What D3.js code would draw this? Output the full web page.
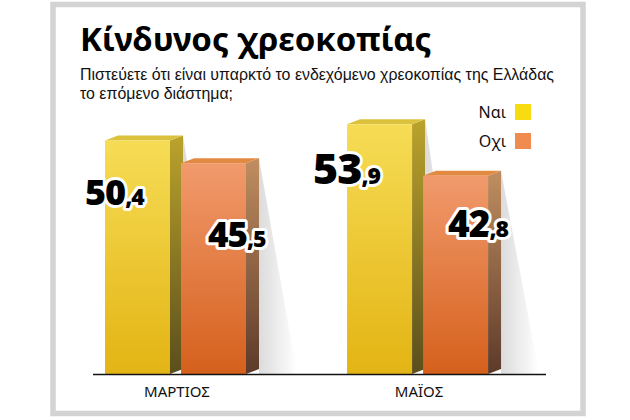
<!doctype html>
<html lang="el">
<head>
<meta charset="UTF-8" />
<title>Κίνδυνος χρεοκοπίας</title>
<style>
    body { margin: 0; background: #fff; }
    .title { font-family: 'Noto Sans', sans-serif; font-weight: 700; font-size: 33px; fill: #000; }
    .subtitle { font-family: 'Liberation Sans Narrow', 'Liberation Sans', sans-serif; font-size: 16.5px; fill: #111; }
    .legend-label { font-family: 'Noto Sans', sans-serif; font-size: 16px; fill: #111; }
    .value-label { font-family: 'Open Sans', sans-serif; font-weight: 800; fill: #000;
        stroke: #fff; stroke-width: 6px; stroke-linejoin: round; paint-order: stroke; }
    .cat-axis text { font-family: 'Noto Sans', sans-serif; font-size: 15px; fill: #111; }
</style>
<script src="https://d3js.org/d3.v7.min.js"></script>
</head>
<body>
<div id="chart-container"></div>
<script>
    // data
    var categories = ['ΜΑΡΤΙΟΣ', 'ΜΑΪΟΣ'];
    var seriesNames = ['Ναι', 'Οχι'];
    var naiValues = [50.4, 53.9];
    var oxiValues = [45.5, 42.8];
    var valueText = [['50', ',4', '45', ',5'], ['53', ',9', '42', ',8']];

    var canvasWidth = 630;
    var canvasHeight = 420;
    var baseY = 374;
    var depthX = 13, depthY = 5;

    var svg = d3.select('#chart-container')
        .append('svg')
        .attr('width', canvasWidth)
        .attr('height', canvasHeight);

    var defs = svg.append('defs');

    function vGrad(id, top, bottom) {
        var g = defs.append('linearGradient').attr('id', id)
            .attr('x1', 0).attr('y1', 0).attr('x2', 0).attr('y2', 1);
        g.append('stop').attr('offset', '0%').attr('stop-color', top);
        g.append('stop').attr('offset', '100%').attr('stop-color', bottom);
    }
    vGrad('nai-front', '#f6dc55', '#e3b414');
    vGrad('nai-side', '#bba32c', '#5a4e1c');
    vGrad('oxi-front', '#f19a6c', '#d5601c');
    vGrad('oxi-side', '#c08e60', '#5c3a2a');

    var sh = defs.append('linearGradient').attr('id', 'shadow')
        .attr('x1', 0).attr('y1', 0).attr('x2', 1).attr('y2', 0);
    sh.append('stop').attr('offset', '0%').attr('stop-color', '#000').attr('stop-opacity', 0.14);
    sh.append('stop').attr('offset', '100%').attr('stop-color', '#000').attr('stop-opacity', 0);

    // frame
    svg.append('rect')
        .attr('x', 53).attr('y', 4.5)
        .attr('width', 530).attr('height', 409)
        .attr('fill', '#fff')
        .attr('stroke', '#d3d3d3')
        .attr('stroke-width', 5.5);

    // titles
    svg.append('text').attr('class', 'title')
        .attr('x', 80).attr('y', 51)
        .text('Κίνδυνος χρεοκοπίας');

    svg.append('text').attr('class', 'subtitle')
        .attr('x', 80).attr('y', 80)
        .attr('textLength', 474).attr('lengthAdjust', 'spacingAndGlyphs')
        .text('Πιστεύετε ότι είναι υπαρκτό το ενδεχόμενο χρεοκοπίας της Ελλάδας');
    svg.append('text').attr('class', 'subtitle')
        .attr('x', 80).attr('y', 99)
        .attr('textLength', 153).attr('lengthAdjust', 'spacingAndGlyphs')
        .text('το επόμενο διάστημα;');

    // scales
    var x0 = d3.scaleBand().domain(categories).range([105, 501]).paddingInner(0.364).paddingOuter(0);
    var x1 = d3.scaleBand().domain(seriesNames).range([0, 141]).paddingInner(0.145);
    var y = d3.scaleLinear().domain([0, 60]).range([baseY, baseY - 278]);

    var rows = [];
    categories.forEach(function (c, i) {
        rows.push({ cat: c, series: 'Ναι', value: naiValues[i], key: 'nai', big: valueText[i][0], small: valueText[i][1] });
        rows.push({ cat: c, series: 'Οχι', value: oxiValues[i], key: 'oxi', big: valueText[i][2], small: valueText[i][3] });
    });

    function bx(d) { return x0(d.cat) + x1(d.series); }
    var bw = x1.bandwidth();

    // shadows behind bars
    svg.append('g').selectAll('polygon')
        .data(rows).enter().append('polygon')
        .attr('points', function (d) {
            var xr = bx(d) + bw + depthX, t = y(d.value) - depthY;
            return [[xr, t], [xr + 38, baseY], [xr, baseY]].join(' ');
        })
        .attr('fill', 'url(#shadow)');

    var bars = svg.append('g').selectAll('g')
        .data(rows).enter().append('g');

    // side face
    bars.append('polygon')
        .attr('points', function (d) {
            var xr = bx(d) + bw, t = y(d.value);
            return [[xr, t], [xr + depthX, t - depthY], [xr + depthX, baseY - depthY], [xr, baseY]].join(' ');
        })
        .attr('fill', function (d) { return 'url(#' + d.key + '-side)'; });

    // top face
    bars.append('polygon')
        .attr('points', function (d) {
            var xl = bx(d), t = y(d.value);
            return [[xl, t], [xl + depthX, t - depthY], [xl + bw + depthX, t - depthY], [xl + bw, t]].join(' ');
        })
        .attr('fill', function (d) { return d.key === 'nai' ? '#dcc13c' : '#e38a42'; });

    // front face
    bars.append('rect')
        .attr('x', bx)
        .attr('y', function (d) { return y(d.value); })
        .attr('width', bw)
        .attr('height', function (d) { return baseY - y(d.value); })
        .attr('fill', function (d) { return 'url(#' + d.key + '-front)'; });

    // floor line
    svg.append('line')
        .attr('x1', 93).attr('x2', 546)
        .attr('y1', baseY + 0.5).attr('y2', baseY + 0.5)
        .attr('stroke', '#111').attr('stroke-width', 1.6);

    // category labels
    var axis = svg.append('g')
        .attr('class', 'cat-axis')
        .attr('transform', 'translate(-5,' + baseY + ')')
        .call(d3.axisBottom(x0).tickSize(0).tickPadding(12));
    axis.select('.domain').remove();

    // value labels: per-label nudges relative to bar corner
    var labelStyle = [
        { dx: -20, dy: 65, size: 36 },
        { dx: 27, dy: 84, size: 35 },
        { dx: -34, dy: 60, size: 43 },
        { dx: 25, dy: 61, size: 37 }
    ];
    var labels = svg.append('g').selectAll('text')
        .data(rows).enter().append('text')
        .attr('class', 'value-label')
        .attr('x', function (d, i) { return bx(d) + labelStyle[i].dx; })
        .attr('y', function (d, i) { return y(d.value) + labelStyle[i].dy; })
        .style('letter-spacing', '-1px');
    labels.append('tspan')
        .style('font-size', function (d, i) { return labelStyle[i].size + 'px'; })
        .text(function (d) { return d.big; });
    labels.append('tspan')
        .style('font-size', '23px')
        .text(function (d) { return d.small; });

    // legend
    var legendColors = ['#f7dc12', '#f08c50'];
    var legend = svg.append('g').selectAll('g')
        .data(seriesNames).enter().append('g')
        .attr('transform', function (d, i) { return 'translate(0,' + (104 + i * 29) + ')'; });
    legend.append('rect')
        .attr('x', 515).attr('width', 16).attr('height', 16)
        .attr('fill', function (d, i) { return legendColors[i]; });
    legend.append('text')
        .attr('class', 'legend-label')
        .attr('x', 506).attr('y', 14)
        .attr('text-anchor', 'end')
        .text(function (d) { return d; });
</script>
</body>
</html>
